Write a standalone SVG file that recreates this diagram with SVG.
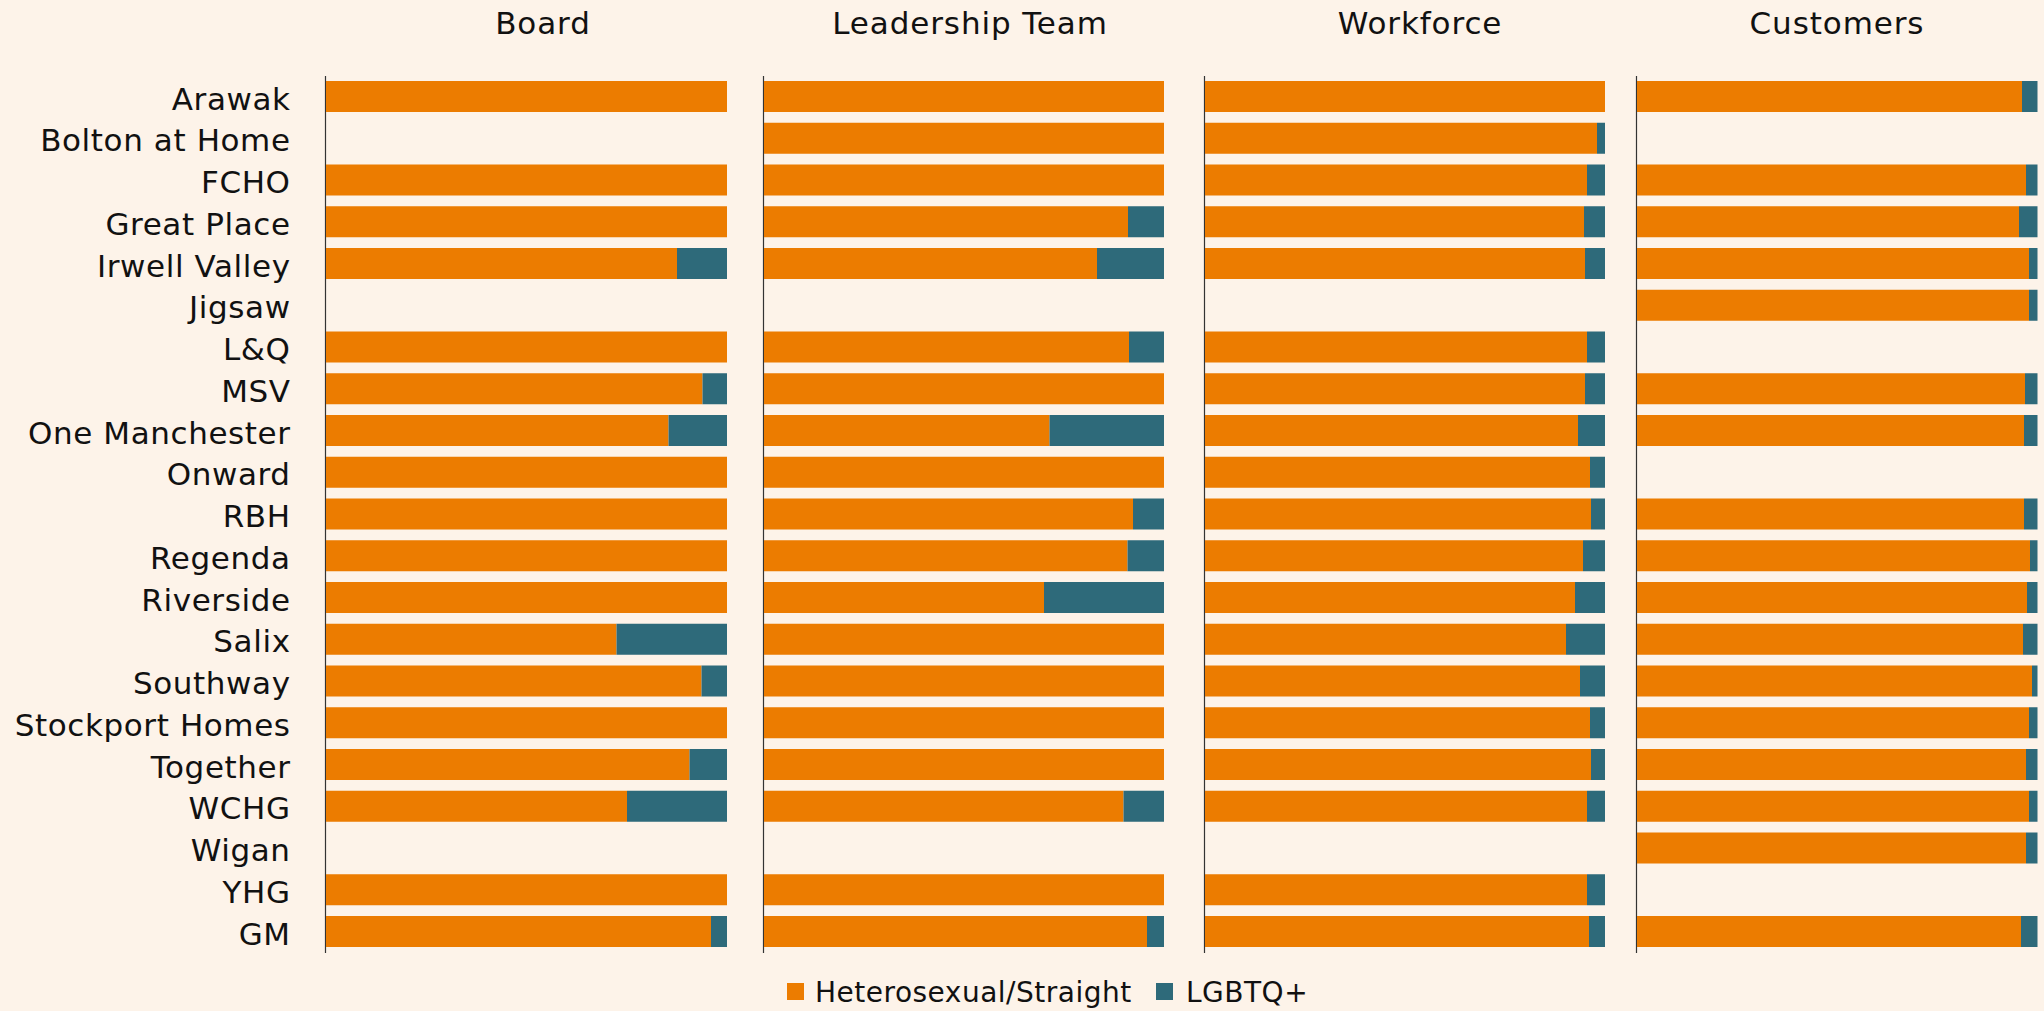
<svg xmlns="http://www.w3.org/2000/svg" width="2044" height="1011" viewBox="0 0 2044 1011">
<style>
.bg{fill:#FDF3E9}
.o{fill:#EC7C00}
.t{fill:#2E6A7A}
rect.o,rect.t{height:31px}
.lbl{font-family:"DejaVu Sans",sans-serif;font-size:31px;fill:#111;text-anchor:end;letter-spacing:0.6px}
.hdr{font-family:"DejaVu Sans",sans-serif;font-size:31px;fill:#111;text-anchor:middle;letter-spacing:0.9px}
.leg{font-family:"DejaVu Sans",sans-serif;font-size:28px;fill:#111;letter-spacing:0.5px}
.ax{stroke:#333;stroke-width:1.2}
</style>
<rect class="bg" x="0" y="0" width="2044" height="1011"/>
<g id="headers">
<text class="hdr" x="543" y="33.5">Board</text>
<text class="hdr" x="970" y="33.5">Leadership Team</text>
<text class="hdr" x="1420" y="33.5">Workforce</text>
<text class="hdr" x="1837" y="33.5">Customers</text>
</g>
<g id="axes">
<line class="ax" x1="325.5" y1="76" x2="325.5" y2="953"/>
<line class="ax" x1="763.5" y1="76" x2="763.5" y2="953"/>
<line class="ax" x1="1204.5" y1="76" x2="1204.5" y2="953"/>
<line class="ax" x1="1636.5" y1="76" x2="1636.5" y2="953"/>
</g>
<g id="row-arawak" transform="translate(0,81)">
<text class="lbl" x="290.6" y="28.5">Arawak</text>
<rect class="o" x="326" y="0" width="401"/>
<rect class="o" x="764" y="0" width="400"/>
<rect class="o" x="1205" y="0" width="400"/>
<rect class="o" x="1637" y="0" width="385"/><rect class="t" x="2022" y="0" width="15.5"/>
</g>
<g id="row-bolton" transform="translate(0,122.75)">
<text class="lbl" x="290.6" y="28.5">Bolton at Home</text>
<rect class="o" x="764" y="0" width="400"/>
<rect class="o" x="1205" y="0" width="392"/><rect class="t" x="1597" y="0" width="8"/>
</g>
<g id="row-fcho" transform="translate(0,164.5)">
<text class="lbl" x="290.6" y="28.5">FCHO</text>
<rect class="o" x="326" y="0" width="401"/>
<rect class="o" x="764" y="0" width="400"/>
<rect class="o" x="1205" y="0" width="382"/><rect class="t" x="1587" y="0" width="18"/>
<rect class="o" x="1637" y="0" width="389"/><rect class="t" x="2026" y="0" width="11.5"/>
</g>
<g id="row-greatplace" transform="translate(0,206.25)">
<text class="lbl" x="290.6" y="28.5">Great Place</text>
<rect class="o" x="326" y="0" width="401"/>
<rect class="o" x="764" y="0" width="364"/><rect class="t" x="1128" y="0" width="36"/>
<rect class="o" x="1205" y="0" width="379"/><rect class="t" x="1584" y="0" width="21"/>
<rect class="o" x="1637" y="0" width="382"/><rect class="t" x="2019" y="0" width="18.5"/>
</g>
<g id="row-irwell" transform="translate(0,248)">
<text class="lbl" x="290.6" y="28.5">Irwell Valley</text>
<rect class="o" x="326" y="0" width="351"/><rect class="t" x="677" y="0" width="50"/>
<rect class="o" x="764" y="0" width="333"/><rect class="t" x="1097" y="0" width="67"/>
<rect class="o" x="1205" y="0" width="380"/><rect class="t" x="1585" y="0" width="20"/>
<rect class="o" x="1637" y="0" width="392"/><rect class="t" x="2029" y="0" width="8.5"/>
</g>
<g id="row-jigsaw" transform="translate(0,289.75)">
<text class="lbl" x="290.6" y="28.5">Jigsaw</text>
<rect class="o" x="1637" y="0" width="392"/><rect class="t" x="2029" y="0" width="8.5"/>
</g>
<g id="row-lq" transform="translate(0,331.5)">
<text class="lbl" x="290.6" y="28.5">L&amp;Q</text>
<rect class="o" x="326" y="0" width="401"/>
<rect class="o" x="764" y="0" width="365"/><rect class="t" x="1129" y="0" width="35"/>
<rect class="o" x="1205" y="0" width="382"/><rect class="t" x="1587" y="0" width="18"/>
</g>
<g id="row-msv" transform="translate(0,373.25)">
<text class="lbl" x="290.6" y="28.5">MSV</text>
<rect class="o" x="326" y="0" width="376.5"/><rect class="t" x="702.5" y="0" width="24.5"/>
<rect class="o" x="764" y="0" width="400"/>
<rect class="o" x="1205" y="0" width="380"/><rect class="t" x="1585" y="0" width="20"/>
<rect class="o" x="1637" y="0" width="388"/><rect class="t" x="2025" y="0" width="12.5"/>
</g>
<g id="row-onemanchester" transform="translate(0,415)">
<text class="lbl" x="290.6" y="28.5">One Manchester</text>
<rect class="o" x="326" y="0" width="342.5"/><rect class="t" x="668.5" y="0" width="58.5"/>
<rect class="o" x="764" y="0" width="285.5"/><rect class="t" x="1049.5" y="0" width="114.5"/>
<rect class="o" x="1205" y="0" width="373"/><rect class="t" x="1578" y="0" width="27"/>
<rect class="o" x="1637" y="0" width="387"/><rect class="t" x="2024" y="0" width="13.5"/>
</g>
<g id="row-onward" transform="translate(0,456.75)">
<text class="lbl" x="290.6" y="28.5">Onward</text>
<rect class="o" x="326" y="0" width="401"/>
<rect class="o" x="764" y="0" width="400"/>
<rect class="o" x="1205" y="0" width="385"/><rect class="t" x="1590" y="0" width="15"/>
</g>
<g id="row-rbh" transform="translate(0,498.5)">
<text class="lbl" x="290.6" y="28.5">RBH</text>
<rect class="o" x="326" y="0" width="401"/>
<rect class="o" x="764" y="0" width="369"/><rect class="t" x="1133" y="0" width="31"/>
<rect class="o" x="1205" y="0" width="386"/><rect class="t" x="1591" y="0" width="14"/>
<rect class="o" x="1637" y="0" width="387"/><rect class="t" x="2024" y="0" width="13.5"/>
</g>
<g id="row-regenda" transform="translate(0,540.25)">
<text class="lbl" x="290.6" y="28.5">Regenda</text>
<rect class="o" x="326" y="0" width="401"/>
<rect class="o" x="764" y="0" width="363.5"/><rect class="t" x="1127.5" y="0" width="36.5"/>
<rect class="o" x="1205" y="0" width="378"/><rect class="t" x="1583" y="0" width="22"/>
<rect class="o" x="1637" y="0" width="393"/><rect class="t" x="2030" y="0" width="7.5"/>
</g>
<g id="row-riverside" transform="translate(0,582)">
<text class="lbl" x="290.6" y="28.5">Riverside</text>
<rect class="o" x="326" y="0" width="401"/>
<rect class="o" x="764" y="0" width="280"/><rect class="t" x="1044" y="0" width="120"/>
<rect class="o" x="1205" y="0" width="370"/><rect class="t" x="1575" y="0" width="30"/>
<rect class="o" x="1637" y="0" width="390"/><rect class="t" x="2027" y="0" width="10.5"/>
</g>
<g id="row-salix" transform="translate(0,623.75)">
<text class="lbl" x="290.6" y="28.5">Salix</text>
<rect class="o" x="326" y="0" width="290.5"/><rect class="t" x="616.5" y="0" width="110.5"/>
<rect class="o" x="764" y="0" width="400"/>
<rect class="o" x="1205" y="0" width="361"/><rect class="t" x="1566" y="0" width="39"/>
<rect class="o" x="1637" y="0" width="386"/><rect class="t" x="2023" y="0" width="14.5"/>
</g>
<g id="row-southway" transform="translate(0,665.5)">
<text class="lbl" x="290.6" y="28.5">Southway</text>
<rect class="o" x="326" y="0" width="375.5"/><rect class="t" x="701.5" y="0" width="25.5"/>
<rect class="o" x="764" y="0" width="400"/>
<rect class="o" x="1205" y="0" width="375"/><rect class="t" x="1580" y="0" width="25"/>
<rect class="o" x="1637" y="0" width="395"/><rect class="t" x="2032" y="0" width="5.5"/>
</g>
<g id="row-stockport" transform="translate(0,707.25)">
<text class="lbl" x="290.6" y="28.5">Stockport Homes</text>
<rect class="o" x="326" y="0" width="401"/>
<rect class="o" x="764" y="0" width="400"/>
<rect class="o" x="1205" y="0" width="385"/><rect class="t" x="1590" y="0" width="15"/>
<rect class="o" x="1637" y="0" width="392"/><rect class="t" x="2029" y="0" width="8.5"/>
</g>
<g id="row-together" transform="translate(0,749)">
<text class="lbl" x="290.6" y="28.5">Together</text>
<rect class="o" x="326" y="0" width="363.5"/><rect class="t" x="689.5" y="0" width="37.5"/>
<rect class="o" x="764" y="0" width="400"/>
<rect class="o" x="1205" y="0" width="386"/><rect class="t" x="1591" y="0" width="14"/>
<rect class="o" x="1637" y="0" width="389"/><rect class="t" x="2026" y="0" width="11.5"/>
</g>
<g id="row-wchg" transform="translate(0,790.75)">
<text class="lbl" x="290.6" y="28.5">WCHG</text>
<rect class="o" x="326" y="0" width="301"/><rect class="t" x="627" y="0" width="100"/>
<rect class="o" x="764" y="0" width="359.5"/><rect class="t" x="1123.5" y="0" width="40.5"/>
<rect class="o" x="1205" y="0" width="382"/><rect class="t" x="1587" y="0" width="18"/>
<rect class="o" x="1637" y="0" width="392"/><rect class="t" x="2029" y="0" width="8.5"/>
</g>
<g id="row-wigan" transform="translate(0,832.5)">
<text class="lbl" x="290.6" y="28.5">Wigan</text>
<rect class="o" x="1637" y="0" width="389"/><rect class="t" x="2026" y="0" width="11.5"/>
</g>
<g id="row-yhg" transform="translate(0,874.25)">
<text class="lbl" x="290.6" y="28.5">YHG</text>
<rect class="o" x="326" y="0" width="401"/>
<rect class="o" x="764" y="0" width="400"/>
<rect class="o" x="1205" y="0" width="382"/><rect class="t" x="1587" y="0" width="18"/>
</g>
<g id="row-gm" transform="translate(0,916)">
<text class="lbl" x="290.6" y="28.5">GM</text>
<rect class="o" x="326" y="0" width="385"/><rect class="t" x="711" y="0" width="16"/>
<rect class="o" x="764" y="0" width="383"/><rect class="t" x="1147" y="0" width="17"/>
<rect class="o" x="1205" y="0" width="384"/><rect class="t" x="1589" y="0" width="16"/>
<rect class="o" x="1637" y="0" width="384"/><rect class="t" x="2021" y="0" width="16.5"/>
</g>
<g id="legend">
<rect class="o" x="787" y="983" width="17" height="17" style="height:17px"/>
<text class="leg" x="815" y="1002">Heterosexual/Straight</text>
<rect class="t" x="1156" y="983" width="17" height="17" style="height:17px"/>
<text class="leg" x="1186" y="1002">LGBTQ+</text>
</g>
</svg>
